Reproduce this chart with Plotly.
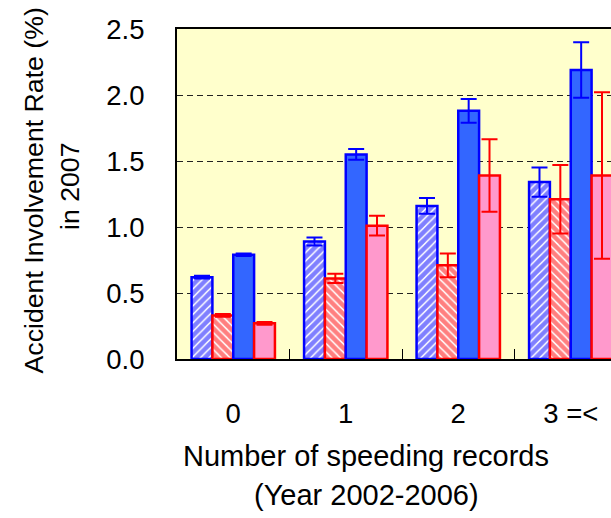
import plotly.graph_objects as go

categories = ["0", "1", "2", "3 =<"]

blue_hatched = [0.62, 0.89, 1.16, 1.34]
blue_hatched_err = [0.01, 0.03, 0.06, 0.11]
red_hatched = [0.33, 0.61, 0.71, 1.21]
red_hatched_err = [0.01, 0.035, 0.09, 0.26]
blue_solid = [0.79, 1.55, 1.88, 2.19]
blue_solid_err = [0.01, 0.04, 0.09, 0.21]
pink_solid = [0.27, 1.01, 1.39, 1.39]
pink_solid_err = [0.01, 0.075, 0.275, 0.63]

y_ticks = [0.0, 0.5, 1.0, 1.5, 2.0, 2.5]
y_tick_labels = ["0.0", "0.5", "1.0", "1.5", "2.0", "2.5"]

FONT = "Liberation Sans, Arial, sans-serif"
W, H = 611, 518
L, R, T, B = 177, 0, 29, 159
PW, PH = W - L - R, H - T - B


def err(vals, color):
    return dict(type="data", array=vals, visible=True, color=color,
                thickness=2, width=8)


fig = go.Figure()
fig.add_trace(go.Bar(
    name="Blue hatched", x=categories, y=blue_hatched,
    marker=dict(color="white", line=dict(color="#0000FF", width=2.5),
                pattern=dict(shape="/", fgcolor="#0000FF", bgcolor="white",
                             size=6, solidity=0.75)),
    error_y=err(blue_hatched_err, "#0000FF")))
fig.add_trace(go.Bar(
    name="Red hatched", x=categories, y=red_hatched,
    marker=dict(color="white", line=dict(color="#FF0000", width=2.5),
                pattern=dict(shape="\\", fgcolor="#FF0000", bgcolor="white",
                             size=6, solidity=0.75)),
    error_y=err(red_hatched_err, "#FF0000")))
fig.add_trace(go.Bar(
    name="Blue solid", x=categories, y=blue_solid,
    marker=dict(color="#3366FF", line=dict(color="#0000FF", width=2.5)),
    error_y=err(blue_solid_err, "#0000FF")))
fig.add_trace(go.Bar(
    name="Pink solid", x=categories, y=pink_solid,
    marker=dict(color="#FF99CC", line=dict(color="#FF0000", width=2.5)),
    error_y=err(pink_solid_err, "#FF0000")))

fig.update_layout(
    width=W, height=H,
    margin=dict(l=L, r=R, t=T, b=B, pad=0),
    paper_bgcolor="white", plot_bgcolor="#FFFFCC",
    barmode="group", bargap=0.259, bargroupgap=0,
    showlegend=False,
    font=dict(family=FONT, size=28, color="black"),
)
fig.update_xaxes(
    type="category", categoryorder="array", categoryarray=categories,
    range=[-0.5, -0.5 + PW / 112.5],
    showline=True, linecolor="black", linewidth=2, mirror=True,
    ticks="inside", tickson="boundaries", ticklen=10, tickcolor="black",
    tickwidth=1, showgrid=False, ticklabelstandoff=29,
    tickfont=dict(family=FONT, size=27.5, color="black"),
)
fig.update_yaxes(
    range=[0, 2.5], tickvals=y_ticks, ticktext=y_tick_labels,
    showline=True, linecolor="black", linewidth=2, mirror=False,
    ticks="", showgrid=True, gridcolor="#222222", gridwidth=1,
    griddash="6px,4px", zeroline=False, ticklabelstandoff=25,
    tickfont=dict(family=FONT, size=27.5, color="black"),
)


def px_x(px):
    return (px - L) / PW


def px_y(py):
    return (T + PH - py) / PH


anns = [
    dict(text="Number of speeding records", x=px_x(366), y=px_y(456), size=29),
    dict(text="(Year 2002-2006)", x=px_x(366), y=px_y(495), size=29),
    dict(text="Accident Involvement Rate (%)", x=px_x(33), y=px_y(190.5),
         textangle=-90, size=26.7),
    dict(text="in 2007", x=px_x(70), y=px_y(186), textangle=-90, size=26.7),
]
for a in anns:
    size = a.pop("size")
    fig.add_annotation(xref="paper", yref="paper", showarrow=False,
                       xanchor="center", yanchor="middle",
                       font=dict(family=FONT, size=size, color="black"), **a)

fig.write_html("out.html")
